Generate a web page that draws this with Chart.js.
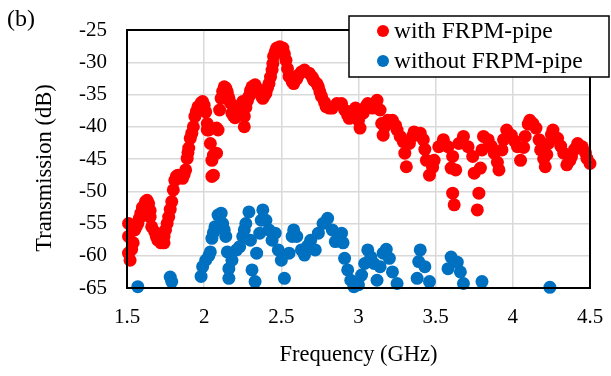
<!DOCTYPE html>
<html>
<head>
<meta charset="utf-8">
<script src="https://cdn.jsdelivr.net/npm/chart.js@4"></script>
<style>
  html, body { margin: 0; padding: 0; background: #fff; }
  #wrap { position: relative; width: 611px; height: 376px; }
</style>
</head>
<body>
<div id="wrap"><canvas id="Chart" width="611" height="376"></canvas></div>
<script>
// values (GHz, dB)
var withFreq = [1.51,1.51,1.51,1.52,1.53,1.54,1.55,1.56,1.57,1.58,1.59,1.60,1.62,1.63,1.64,1.65,1.65,1.66,1.68,1.69,
  1.70,1.72,1.74,1.74,1.75,1.76,1.77,1.78,1.79,1.80,1.81,1.82,1.83,1.85,1.86,1.87,1.88,1.89,1.895,1.90,
  1.91,1.92,1.93,1.94,1.95,1.96,1.98,1.99,2.00,2.01,2.02,2.02,2.03,2.04,2.05,2.05,2.06,2.06,2.08,2.08,
  2.09,2.10,2.11,2.12,2.13,2.14,2.15,2.16,2.17,2.18,2.19,2.20,2.21,2.23,2.24,2.25,2.26,2.26,2.27,2.28,
  2.29,2.30,2.31,2.33,2.34,2.36,2.37,2.38,2.39,2.40,2.41,2.42,2.43,2.44,2.445,2.45,2.46,2.47,2.49,2.51,
  2.52,2.53,2.54,2.55,2.57,2.58,2.60,2.61,2.63,2.65,2.68,2.70,2.71,2.73,2.74,2.75,2.76,2.78,2.79,2.81,
  2.83,2.86,2.89,2.91,2.93,2.94,2.96,2.98,3.00,3.01,3.03,3.05,3.06,3.09,3.12,3.14,3.15,3.16,3.17,3.19,
  3.22,3.24,3.25,3.27,3.29,3.30,3.31,3.33,3.35,3.36,3.40,3.42,3.43,3.44,3.46,3.48,3.49,3.52,3.55,3.58,
  3.61,3.60,3.63,3.61,3.62,3.65,3.68,3.71,3.74,3.75,3.79,3.78,3.77,3.80,3.81,3.84,3.86,3.88,3.90,3.91,
  3.93,3.94,3.96,3.99,4.01,4.03,4.05,4.07,4.08,4.10,4.11,4.13,4.15,4.17,4.18,4.20,4.21,4.22,4.23,4.25,
  4.26,4.29,4.31,4.33,4.35,4.37,4.38,4.40,4.42,4.45,4.47,4.48,4.50];
var withDb = [-55.0,-57.0,-59.6,-60.7,-59.0,-58.0,-56.0,-55.5,-55.0,-54.2,-53.4,-52.5,-51.6,-51.4,-51.9,-53.0,-54.0,-55.5,-56.3,-57.0,
  -57.6,-58.0,-58.0,-57.0,-56.0,-55.0,-54.0,-52.8,-51.6,-49.8,-48.3,-47.7,-47.5,-47.8,-48.0,-47.4,-46.7,-44.9,-44.0,-43.3,
  -41.8,-41.0,-40.0,-38.4,-37.6,-36.9,-36.3,-36.1,-36.7,-37.7,-39.5,-40.5,-40.5,-42.6,-45.2,-47.7,-44.4,-47.5,-44.1,-40.2,
  -40.5,-37.4,-35.6,-34.5,-33.8,-34.0,-34.6,-35.5,-36.3,-37.9,-38.3,-38.6,-38.0,-37.4,-36.6,-36.1,-38.4,-40.0,-37.0,-36.0,
  -35.3,-34.4,-33.8,-33.5,-34.0,-34.6,-35.2,-35.6,-35.2,-34.8,-34.0,-33.3,-32.3,-31.2,-30.2,-29.1,-28.4,-27.8,-27.6,-27.8,
  -28.7,-29.7,-31.0,-32.2,-33.0,-33.3,-32.6,-32.0,-31.5,-31.2,-31.7,-32.3,-32.8,-33.3,-33.8,-34.6,-35.3,-36.2,-36.9,-37.1,
  -37.1,-36.4,-36.4,-37.4,-38.2,-38.7,-37.6,-37.1,-39.0,-40.2,-37.9,-36.8,-36.4,-37.1,-35.9,-37.4,-39.5,-41.3,-40.0,-39.0,
  -39.0,-39.8,-40.5,-41.5,-42.3,-44.1,-46.2,-42.6,-41.5,-40.8,-41.0,-42.0,-43.5,-45.2,-47.5,-46.3,-45.2,-43.1,-42.0,-43.1,
  -44.6,-46.4,-46.7,-50.3,-52.1,-42.6,-41.5,-43.1,-44.6,-47.2,-46.4,-50.3,-52.9,-43.6,-41.5,-42.0,-43.0,-44.1,-45.5,-46.7,
  -43.6,-42.0,-40.5,-41.3,-42.2,-43.1,-45.2,-43.2,-41.5,-39.6,-39.0,-39.5,-40.2,-42.0,-43.6,-45.0,-46.2,-44.3,-42.6,-41.2,
  -40.5,-41.8,-43.0,-44.1,-45.9,-45.2,-44.6,-43.5,-42.6,-43.1,-44.0,-44.9,-45.7];

var withoutFreq = [1.57,1.78,1.79,1.98,1.99,2.01,2.03,2.04,2.05,2.06,2.07,2.09,2.11,2.12,2.13,2.14,2.15,2.16,2.16,2.18,
  2.21,2.23,2.25,2.26,2.27,2.29,2.30,2.31,2.33,2.34,2.36,2.37,2.38,2.40,2.42,2.44,2.46,2.48,2.50,2.52,
  2.55,2.57,2.58,2.60,2.63,2.65,2.67,2.69,2.72,2.74,2.77,2.80,2.83,2.85,2.87,2.89,2.90,2.91,2.93,2.95,
  2.97,3.00,3.02,3.04,3.06,3.08,3.10,3.12,3.14,3.16,3.18,3.20,3.22,3.25,3.38,3.39,3.40,3.43,3.46,3.58,
  3.60,3.64,3.66,3.68,3.80,4.24];
var withoutDb = [-64.8,-63.3,-64.0,-63.2,-61.7,-60.7,-60.0,-59.4,-57.3,-56.4,-55.5,-53.7,-53.4,-55.0,-56.0,-57.0,-59.4,-62.0,-63.5,-60.7,
  -59.1,-58.6,-57.0,-56.0,-55.0,-53.2,-57.6,-62.2,-64.0,-59.6,-56.5,-54.5,-52.9,-54.5,-56.0,-57.6,-56.5,-59.1,-60.7,-63.5,
  -59.6,-57.0,-56.0,-57.0,-59.1,-59.9,-58.5,-57.6,-59.1,-56.5,-55.0,-54.2,-56.0,-57.8,-56.8,-56.5,-58.0,-60.4,-62.2,-63.8,
  -64.8,-64.5,-63.0,-61.2,-59.1,-60.2,-61.2,-63.8,-61.7,-59.6,-59.0,-60.4,-62.5,-64.3,-63.5,-60.9,-59.1,-61.7,-64.0,-62.0,
  -60.2,-61.0,-62.5,-64.3,-64.0,-64.9];

var seriesNames = ['with FRPM-pipe', 'without FRPM-pipe'];
var seriesColors = ['#FF0000', '#0070C0'];
var xTitle = 'Frequency (GHz)';
var yTitle = 'Transmission (dB)';

var serif = 'Liberation Serif, Times New Roman, serif';

function pts(xs, ys){
    var out = [];
    for(let i=0;i<xs.length;i++){ out.push({x: xs[i], y: ys[i]}); }
    return out;
}

// box round the plot area, y title, legend box and the (b) mark
var extras = {
    id: 'extras',
    afterDatasetsDraw(chart){
        var c = chart.ctx;
        var a = chart.chartArea;
        c.save();
        c.strokeStyle = '#000';
        c.lineWidth = 2;
        c.strokeRect(a.left, a.top, a.right - a.left, a.bottom - a.top);
        c.restore();
    },
    afterDraw(chart){
        var c = chart.ctx;
        c.save();
        c.fillStyle = '#000';
        c.font = '22.5px ' + serif;
        c.textAlign = 'center';
        c.textBaseline = 'middle';
        c.translate(45, 168);
        c.rotate(-Math.PI/2);
        c.fillText(yTitle, 0, 0);
        c.restore();

        c.save();
        // legend
        c.fillStyle = '#fff';
        c.fillRect(349, 16, 260, 61);
        c.strokeStyle = '#000';
        c.lineWidth = 1.5;
        c.strokeRect(349, 16, 260, 61);
        c.font = '23.5px ' + serif;
        c.textBaseline = 'middle';
        c.textAlign = 'left';
        for(let i=0;i<2;i++){
            var yy = 31 + i*30;
            c.fillStyle = seriesColors[i];
            c.beginPath();
            c.arc(383, yy, 6, 0, Math.PI*2);
            c.fill();
            c.fillStyle = '#000';
            c.fillText(seriesNames[i], 394, yy + 1);
        }
        c.font = '24px ' + serif;
        c.fillText('(b)', 7, 20);
        c.restore();
    }
};

var ctx = document.getElementById('Chart');
var chart = new Chart(ctx, {
    type: 'scatter',
    data: {
        datasets: [{
            label: seriesNames[0],
            data: pts(withFreq, withDb),
            backgroundColor: seriesColors[0],
            borderWidth: 0,
            pointRadius: 6.5,
            clip: false
        },{
            label: seriesNames[1],
            data: pts(withoutFreq, withoutDb),
            backgroundColor: seriesColors[1],
            borderWidth: 0,
            pointRadius: 6.5,
            clip: false
        }]
    },
    options: {
        responsive: false,
        animation: false,
        events: [],
        layout: { padding: { top: 30, right: 21, left: 0, bottom: 0 } },
        plugins: { legend: { display: false }, tooltip: { enabled: false } },
        scales: {
            x: {
                type: 'linear', min: 1.5, max: 4.5,
                ticks: { stepSize: 0.5, color: '#000', font: { family: serif, size: 21 }, padding: 17, maxRotation: 0,
                         callback: function(v){ return String(v); } },
                grid: { color: '#d9d9d9', lineWidth: 1.5, drawTicks: false },
                border: { display: false },
                title: { display: true, text: xTitle, color: '#000', font: { family: serif, size: 22.5 }, padding: { top: 0, bottom: 7 } },
                afterFit: function(s){ s.height = 88; s.paddingLeft = 0; s.paddingRight = 0; }
            },
            y: {
                min: -65, max: -25,
                ticks: { stepSize: 5, color: '#000', font: { family: serif, size: 21 }, padding: 20 },
                grid: { color: '#d9d9d9', lineWidth: 1.5, drawTicks: false },
                border: { display: false },
                afterFit: function(s){ s.width = 127; s.paddingTop = 0; s.paddingBottom = 0; }
            }
        }
    },
    plugins: [extras]
});
</script>
</body>
</html>
